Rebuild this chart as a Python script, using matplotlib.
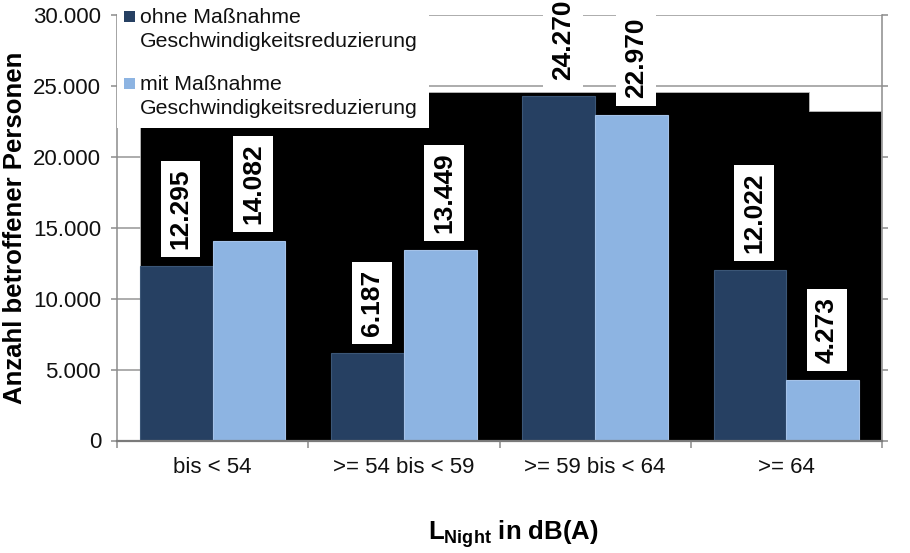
import matplotlib
matplotlib.use("Agg")
import matplotlib.pyplot as plt
from matplotlib.patches import Polygon, Rectangle
from matplotlib.ticker import FixedFormatter, FixedLocator

# data
categories = ["bis < 54", ">= 54 bis < 59", ">= 59 bis < 64", ">= 64"]
ohne_massnahme = [12295, 6187, 24270, 12022]
mit_massnahme = [14082, 13449, 22970, 4273]
series_names = [
    "ohne Maßnahme\nGeschwindigkeitsreduzierung",
    "mit Maßnahme\nGeschwindigkeitsreduzierung",
]
y_ticks = [0, 5000, 10000, 15000, 20000, 25000, 30000]

DARK = "#264062"
LIGHT = "#8DB4E2"
GRID = "#969696"
W, H = 910, 553

plt.rcParams["font.family"] = ["Liberation Sans", "DejaVu Sans"]
plt.rcParams["mathtext.fontset"] = "custom"
plt.rcParams["mathtext.rm"] = "Liberation Sans"
plt.rcParams["mathtext.bf"] = "Liberation Sans:bold"


def de(v):
    return f"{v:,}".replace(",", ".")


def fx(px):
    return px / W


def fy(px):
    return 1 - px / H


fig = plt.figure(figsize=(W / 100, H / 100), dpi=100)
ax = fig.add_axes([fx(117), fy(440.5), 765 / W, 425.5 / H])
ax.set_xlim(-0.5, len(categories) - 0.5)
ax.set_ylim(0, 30000)

# gridlines below, then the odd black backdrop from the source rendering
ax.set_axisbelow(True)
ax.yaxis.grid(True, color=GRID, lw=1.1)
backdrop = Polygon(
    [(0.030, 0), (0.030, 0.819), (0.9046, 0.819), (0.9046, 0.774),
     (0.9987, 0.774), (0.9987, 0)],
    closed=True, transform=ax.transAxes, facecolor="black",
    edgecolor="#bbbbbb", lw=0.6, zorder=0.8,
)
ax.add_patch(backdrop)

bw = 0.38
xs = range(len(categories))
for offset, vals, color, edge in [(-bw / 2, ohne_massnahme, DARK, "#3b5676"),
                                  (bw / 2, mit_massnahme, LIGHT, "#a4c2e8")]:
    ax.bar([x + offset for x in xs], vals, width=bw, color=color,
           edgecolor=edge, lw=0.8, zorder=2)
    for x, v in zip(xs, vals):
        ax.annotate(de(v), xy=(x + offset, v), xytext=(3, 12),
                    textcoords="offset points", rotation=90,
                    ha="center", va="bottom", fontsize=19, fontweight="bold",
                    bbox=dict(boxstyle="square,pad=0.3", fc="white", ec="none"),
                    zorder=4, annotation_clip=False)

# axes styling
ax.spines["top"].set_visible(False)
for side in ["left", "right"]:
    ax.spines[side].set_color("#8c8c8c")
    ax.spines[side].set_linewidth(1.1)
ax.spines["bottom"].set_color("#7a7a7a")
ax.spines["bottom"].set_linewidth(1.6)

ax.set_yticks(y_ticks)
ax.set_yticklabels([de(v) for v in y_ticks])
ax.tick_params(axis="y", left=True, right=True, direction="out", length=4.5,
               width=1.1, color="#8c8c8c", labelsize=16, pad=7,
               labelcolor="#111111")

ax.xaxis.set_major_locator(FixedLocator([i - 0.5 for i in range(len(categories) + 1)]))
ax.xaxis.set_major_formatter(FixedFormatter([""] * (len(categories) + 1)))
ax.xaxis.set_minor_locator(FixedLocator(list(xs)))
ax.xaxis.set_minor_formatter(FixedFormatter(categories))
ax.tick_params(axis="x", which="major", direction="out", length=5, width=1.1,
               color="#8c8c8c")
ax.tick_params(axis="x", which="minor", length=0, pad=12, labelsize=16,
               labelcolor="#111111")

ax.set_ylabel("Anzahl betroffener Personen", fontsize=18.5, fontweight="bold")
ax.yaxis.set_label_coords(-0.118, 0.5)
ax.set_xlabel(r"$\mathbf{L_{Night}}$ in dB(A)", fontsize=18.5, fontweight="bold")
ax.xaxis.set_label_coords(0.518, -0.182)

# legend sits on a white box that covers the top-left of the plot
fig.add_artist(Rectangle((fx(117), fy(128)), (429 - 117) / W, 128 / H,
                         transform=fig.transFigure, facecolor="white",
                         edgecolor="none", zorder=5))
for i, (name, color) in enumerate(zip(series_names, [DARK, LIGHT])):
    top = 11 + i * 67
    fig.add_artist(Rectangle((fx(124), fy(top + 11)), 11 / W, 11 / H,
                             transform=fig.transFigure, facecolor=color,
                             edgecolor="none", zorder=6))
    for j, line in enumerate(name.split("\n")):
        fig.text(fx(140), fy(23 + i * 67 + j * 24), line, fontsize=15.3,
                 color="#111111", va="baseline", ha="left", zorder=6)

fig.savefig("out.png", dpi=100)
